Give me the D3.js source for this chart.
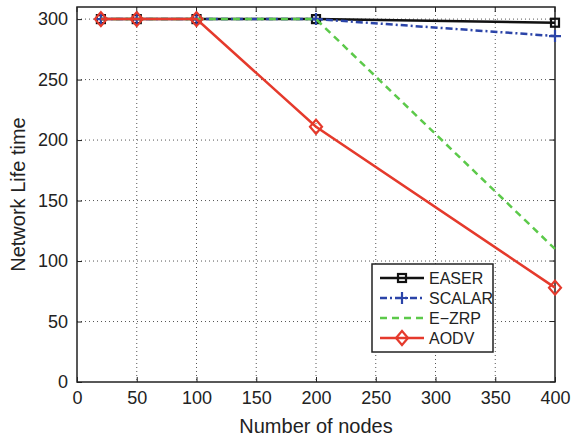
<!DOCTYPE html>
<html>
<head>
<meta charset="utf-8">
<script src="https://cdn.jsdelivr.net/npm/d3@7"></script>
<style>
  body { margin: 0; background: #fff; }
  svg { display: block; font-family: "Liberation Sans", Arial, sans-serif; }
</style>
</head>
<body>
<div id="app"></div>
<script>
// data
const nodeCounts = [20, 50, 100, 200, 400];
const easer  = [300, 300, 300, 300, 297];
const scalar = [300, 300, 300, 300, 286];
const ezrp   = [300, 300, 300, 300, 110];
const aodv   = [300, 300, 300, 211, 78];
const xTicks = [0, 50, 100, 150, 200, 250, 300, 350, 400];
const yTicks = [0, 50, 100, 150, 200, 250, 300];

const series = [
  { name: 'EASER',  values: easer,  color: '#111111', dash: null,          marker: 'square' },
  { name: 'SCALAR', values: scalar, color: '#2b44a8', dash: '7,3,2,3',     marker: 'plus' },
  { name: 'E\u2212ZRP', values: ezrp, color: '#5cc94a', dash: '7,5',       marker: null },
  { name: 'AODV',   values: aodv,   color: '#e53a2c', dash: null,          marker: 'diamond' }
];

const W = 578, H = 440;
const margin = { top: 7, right: 23, bottom: 58, left: 77 };
const width = W - margin.left - margin.right,
  height = H - margin.top - margin.bottom;

const svg = d3.select('#app').append('svg')
  .attr('width', W)
  .attr('height', H);
const g = svg.append('g')
  .attr('transform', `translate(${margin.left},${margin.top})`);

const x = d3.scaleLinear().domain([0, 400]).range([0, width]);
const y = d3.scaleLinear().domain([0, 310]).range([height, 0]);

// dotted grid
g.append('g').selectAll('line')
  .data(xTicks.slice(1, -1))
  .enter().append('line')
    .attr('x1', d => x(d)).attr('x2', d => x(d))
    .attr('y1', 0).attr('y2', height)
    .attr('stroke', '#555').attr('stroke-width', 1)
    .attr('stroke-dasharray', '1,3');
g.append('g').selectAll('line')
  .data(yTicks.slice(1))
  .enter().append('line')
    .attr('x1', 0).attr('x2', width)
    .attr('y1', d => y(d)).attr('y2', d => y(d))
    .attr('stroke', '#555').attr('stroke-width', 1)
    .attr('stroke-dasharray', '1,3');

// axes
const xAxis = g.append('g')
  .attr('transform', `translate(0,${height})`)
  .call(d3.axisBottom(x).tickValues(xTicks).tickSize(-5).tickPadding(9));
const yAxis = g.append('g')
  .call(d3.axisLeft(y).tickValues(yTicks).tickSize(-5).tickPadding(9));
[xAxis, yAxis].forEach(a => {
  a.select('.domain').remove();
  a.selectAll('text').attr('font-size', 18).attr('fill', '#222')
    .attr('font-family', '"Liberation Sans", Arial, sans-serif');
  a.selectAll('line').attr('stroke', '#222');
});
// top/right ticks
g.append('g').selectAll('line').data(xTicks).enter().append('line')
  .attr('x1', d => x(d)).attr('x2', d => x(d)).attr('y1', 0).attr('y2', 5)
  .attr('stroke', '#222');
g.append('g').selectAll('line').data(yTicks).enter().append('line')
  .attr('x1', width).attr('x2', width - 5).attr('y1', d => y(d)).attr('y2', d => y(d))
  .attr('stroke', '#222');

g.append('rect')
  .attr('width', width).attr('height', height)
  .attr('fill', 'none').attr('stroke', '#222').attr('stroke-width', 1.5);

svg.append('text')
  .attr('x', margin.left + width / 2).attr('y', H - 7)
  .attr('text-anchor', 'middle').attr('font-size', 20).attr('fill', '#222')
  .text('Number of nodes');
svg.append('text')
  .attr('transform', `translate(25,${margin.top + height / 2}) rotate(-90)`)
  .attr('text-anchor', 'middle').attr('font-size', 20).attr('fill', '#222')
  .text('Network Life time');

// markers
function drawMarker (sel, type, cx, cy, color) {
  if (type === 'square') {
    sel.append('rect')
      .attr('x', cx - 4).attr('y', cy - 4).attr('width', 8).attr('height', 8)
      .attr('fill', 'none').attr('stroke', color).attr('stroke-width', 2.2);
  } else if (type === 'plus') {
    sel.append('path')
      .attr('d', `M${cx - 6},${cy}H${cx + 6}M${cx},${cy - 6}V${cy + 6}`)
      .attr('stroke', color).attr('stroke-width', 2.2);
  } else if (type === 'diamond') {
    sel.append('path')
      .attr('d', `M${cx},${cy - 7}L${cx + 6},${cy}L${cx},${cy + 7}L${cx - 6},${cy}Z`)
      .attr('fill', 'none').attr('stroke', color).attr('stroke-width', 2.2);
  }
}

const line = d3.line()
  .x((d, i) => x(nodeCounts[i]))
  .y(d => y(d));

series.forEach(s => {
  const sg = g.append('g');
  sg.append('path')
    .datum(s.values)
    .attr('d', line)
    .attr('fill', 'none')
    .attr('stroke', s.color)
    .attr('stroke-width', 2.5)
    .attr('stroke-dasharray', s.dash);
  if (s.marker) {
    s.values.forEach((v, i) => drawMarker(sg, s.marker, x(nodeCounts[i]), y(v), s.color));
  }
});

// legend
const lg = svg.append('g').attr('transform', 'translate(372,264)');
lg.append('rect')
  .attr('width', 121).attr('height', 88)
  .attr('fill', '#fff').attr('stroke', '#222').attr('stroke-width', 1.5);
series.forEach((s, i) => {
  const ly = 14 + i * 20;
  lg.append('line')
    .attr('x1', 8).attr('x2', 52).attr('y1', ly).attr('y2', ly)
    .attr('stroke', s.color).attr('stroke-width', 2.5)
    .attr('stroke-dasharray', s.dash);
  if (s.marker) drawMarker(lg, s.marker, 30, ly, s.color);
  lg.append('text')
    .attr('x', 57).attr('y', ly + 6)
    .attr('font-size', 16).attr('fill', '#222')
    .text(s.name);
});
</script>
</body>
</html>
